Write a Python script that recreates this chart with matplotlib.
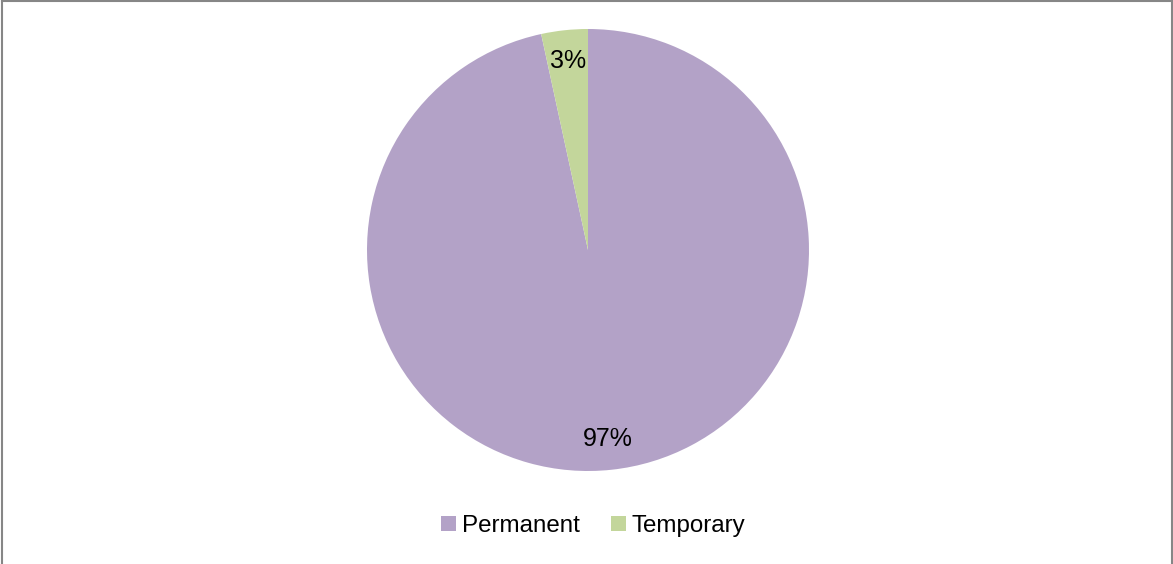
import matplotlib.pyplot as plt
from matplotlib.lines import Line2D
from matplotlib.patches import Patch

labels = ["Permanent", "Temporary"]
values = [96.6, 3.4]
colors = ["#B3A2C7", "#C3D69B"]

plt.rcParams['font.family'] = ['Liberation Sans', 'DejaVu Sans']

fig = plt.figure(figsize=(11.73, 5.64), dpi=100)

# pie axes placed so the disc spans x 367-809, y 29-471 px
ax = fig.add_axes([367 / 1173, (564 - 471) / 564, 442 / 1173, 442 / 564])
wedges, texts, autotexts = ax.pie(values, colors=colors, startangle=90, counterclock=False,
                                  autopct='%.0f%%', pctdistance=0.86, radius=1,
                                  textprops={'fontsize': 18, 'color': 'black'})
ax.set_xlim(-1, 1)
ax.set_ylim(-1, 1)
ax.set_aspect('equal')
ax.axis('off')

handles = [Patch(facecolor=c, edgecolor='none') for c in colors]
fig.legend(handles, labels, loc='center', bbox_to_anchor=(0.506, 38 / 564), ncol=2,
           frameon=False, fontsize=17.4, handlelength=0.6, handleheight=0.6,
           handletextpad=0.25, columnspacing=1.3)

# grey outline of the chart area (bottom edge is cut off in the source)
for xs, ys in [([0.002, 0.002], [0, 0.999]), ([0.002, 0.999], [0.999, 0.999]), ([0.999, 0.999], [0, 0.999])]:
    fig.add_artist(Line2D(xs, ys, transform=fig.transFigure, color='#868686', linewidth=1.5))

fig.savefig("out.png", dpi=100)
